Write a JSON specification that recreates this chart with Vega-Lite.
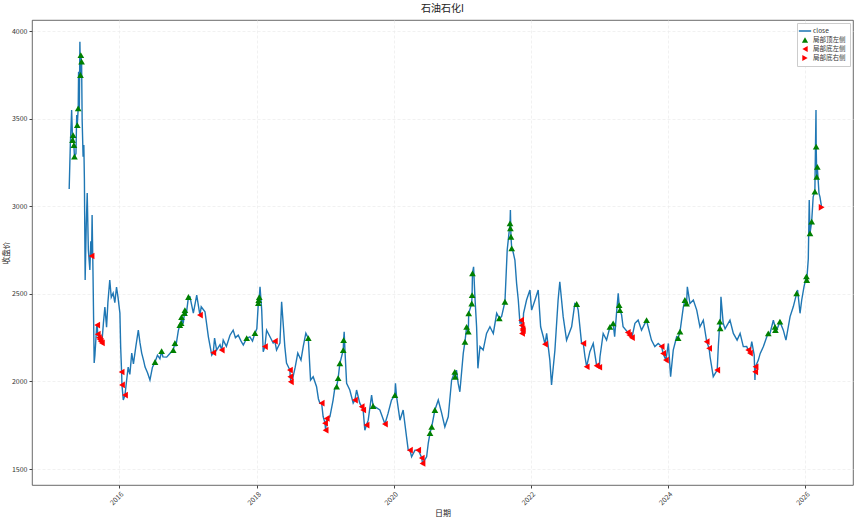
{
  "$schema": "https://vega.github.io/schema/vega-lite/v6.json",
  "width": 821,
  "height": 465,
  "autosize": {"type": "none"},
  "padding": {"left": 32, "top": 20, "right": 12, "bottom": 33},
  "background": "white",
  "title": {"text": "石油石化I", "fontSize": 10, "font": "Noto Sans CJK SC", "fontWeight": "normal", "offset": 6, "color": "#222"},
  "config": {
    "font": "Noto Sans CJK SC",
    "view": {"stroke": "#444", "strokeWidth": 0.8},
    "axis": {"labelFontSize": 7, "labelColor": "#333", "titleFontSize": 8, "titleFontWeight": "normal", "titleColor": "#222", "tickColor": "#444", "tickSize": 3, "labelPadding": 2, "domain": false, "gridColor": "#ebebeb", "gridDash": [3, 2], "gridWidth": 0.7}
  },
  "datasets": {
    "close": [
      {"d":"2015-04-09","v":3098},{"d":"2015-04-15","v":3350},{"d":"2015-04-22","v":3549},{"d":"2015-04-27","v":3378},{"d":"2015-04-30","v":3406},{"d":"2015-05-04","v":3349},{"d":"2015-05-07","v":3283},{"d":"2015-05-15","v":3300},{"d":"2015-05-19","v":3520},{"d":"2015-05-22","v":3463},{"d":"2015-05-27","v":3559},{"d":"2015-05-29","v":3768},{"d":"2015-06-02","v":3560},{"d":"2015-06-05","v":3939},{"d":"2015-06-08","v":3749},{"d":"2015-06-10","v":3863},{"d":"2015-06-14","v":3825},{"d":"2015-06-17","v":3492},{"d":"2015-06-22","v":3283},{"d":"2015-06-26","v":3350},{"d":"2015-06-29","v":3150},{"d":"2015-07-03","v":2579},{"d":"2015-07-09","v":2900},{"d":"2015-07-14","v":3075},{"d":"2015-07-20","v":2750},{"d":"2015-07-28","v":2636},{"d":"2015-08-02","v":2800},{"d":"2015-08-06","v":2716},{"d":"2015-08-09","v":2950},{"d":"2015-08-14","v":2600},{"d":"2015-08-20","v":2105},{"d":"2015-08-24","v":2150},{"d":"2015-09-02","v":2310},{"d":"2015-09-05","v":2322},{"d":"2015-09-08","v":2270},{"d":"2015-09-14","v":2250},{"d":"2015-09-19","v":2240},{"d":"2015-09-24","v":2230},{"d":"2015-09-30","v":2220},{"d":"2015-10-08","v":2330},{"d":"2015-10-16","v":2425},{"d":"2015-10-25","v":2310},{"d":"2015-11-01","v":2450},{"d":"2015-11-11","v":2579},{"d":"2015-11-19","v":2480},{"d":"2015-11-29","v":2504},{"d":"2015-12-08","v":2450},{"d":"2015-12-17","v":2539},{"d":"2015-12-25","v":2480},
      {"d":"2016-01-04","v":2390},{"d":"2016-01-08","v":2200},{"d":"2016-01-13","v":2054},{"d":"2016-01-15","v":1980},{"d":"2016-01-22","v":1894},{"d":"2016-01-31","v":1922},{"d":"2016-02-08","v":2000},{"d":"2016-02-17","v":2082},{"d":"2016-02-26","v":2040},{"d":"2016-03-07","v":2162},{"d":"2016-03-16","v":2100},{"d":"2016-03-29","v":2200},{"d":"2016-04-11","v":2293},{"d":"2016-04-20","v":2220},{"d":"2016-04-29","v":2162},{"d":"2016-05-09","v":2120},{"d":"2016-05-17","v":2082},{"d":"2016-05-30","v":2050},{"d":"2016-06-12","v":2008},{"d":"2016-06-25","v":2080},{"d":"2016-07-09","v":2111},{"d":"2016-07-22","v":2150},{"d":"2016-08-04","v":2130},{"d":"2016-08-13","v":2173},{"d":"2016-08-20","v":2140},{"d":"2016-09-09","v":2139},{"d":"2016-09-26","v":2160},{"d":"2016-10-14","v":2179},{"d":"2016-10-23","v":2219},{"d":"2016-10-28","v":2200},{"d":"2016-11-10","v":2290},{"d":"2016-11-18","v":2322},{"d":"2016-11-25","v":2333},{"d":"2016-11-27","v":2367},{"d":"2016-12-06","v":2330},{"d":"2016-12-13","v":2390},{"d":"2016-12-15","v":2407},{"d":"2016-12-22","v":2380},
      {"d":"2017-01-03","v":2482},{"d":"2017-01-11","v":2483},{"d":"2017-01-29","v":2390},{"d":"2017-02-16","v":2493},{"d":"2017-03-05","v":2379},{"d":"2017-03-12","v":2426},{"d":"2017-04-01","v":2398},{"d":"2017-04-19","v":2255},{"d":"2017-05-07","v":2150},{"d":"2017-05-15","v":2164},{"d":"2017-05-22","v":2247},{"d":"2017-06-02","v":2179},{"d":"2017-06-20","v":2210},{"d":"2017-06-29","v":2179},{"d":"2017-07-07","v":2236},{"d":"2017-07-24","v":2200},{"d":"2017-08-12","v":2264},{"d":"2017-08-29","v":2293},{"d":"2017-09-10","v":2250},{"d":"2017-09-25","v":2264},{"d":"2017-10-10","v":2230},{"d":"2017-10-22","v":2208},{"d":"2017-11-09","v":2247},{"d":"2017-11-26","v":2255},{"d":"2017-12-10","v":2230},{"d":"2017-12-23","v":2276},
      {"d":"2018-01-02","v":2300},{"d":"2018-01-10","v":2447},{"d":"2018-01-12","v":2465},{"d":"2018-01-15","v":2481},{"d":"2018-01-19","v":2540},{"d":"2018-01-28","v":2407},{"d":"2018-02-05","v":2170},{"d":"2018-02-14","v":2199},{"d":"2018-02-23","v":2293},{"d":"2018-03-13","v":2255},{"d":"2018-03-30","v":2219},{"d":"2018-04-08","v":2230},{"d":"2018-04-17","v":2179},{"d":"2018-05-05","v":2219},{"d":"2018-05-14","v":2455},{"d":"2018-05-31","v":2199},{"d":"2018-06-09","v":2105},{"d":"2018-06-27","v":2065},{"d":"2018-06-29","v":2027},{"d":"2018-07-02","v":1998},{"d":"2018-07-10","v":2008},{"d":"2018-07-25","v":2080},{"d":"2018-08-08","v":2162},{"d":"2018-08-25","v":2122},{"d":"2018-09-06","v":2199},{"d":"2018-09-20","v":2276},{"d":"2018-10-03","v":2247},{"d":"2018-10-15","v":2008},{"d":"2018-10-29","v":2027},{"d":"2018-11-16","v":1970},{"d":"2018-11-26","v":1900},{"d":"2018-12-04","v":1876},{"d":"2018-12-13","v":1876},{"d":"2018-12-21","v":1800},{"d":"2018-12-31","v":1762},
      {"d":"2019-01-03","v":1722},{"d":"2019-01-09","v":1789},{"d":"2019-01-26","v":1798},{"d":"2019-02-12","v":1894},{"d":"2019-02-21","v":1960},{"d":"2019-03-03","v":1970},{"d":"2019-03-11","v":2019},{"d":"2019-03-20","v":2103},{"d":"2019-04-07","v":2179},{"d":"2019-04-09","v":2236},{"d":"2019-04-12","v":2284},{"d":"2019-04-16","v":2179},{"d":"2019-04-25","v":1989},{"d":"2019-05-12","v":1951},{"d":"2019-05-30","v":1876},{"d":"2019-06-08","v":1894},{"d":"2019-06-17","v":1951},{"d":"2019-07-04","v":1876},{"d":"2019-07-14","v":1856},{"d":"2019-07-22","v":1837},{"d":"2019-07-31","v":1722},{"d":"2019-08-09","v":1751},{"d":"2019-08-18","v":1779},{"d":"2019-09-05","v":1922},{"d":"2019-09-13","v":1860},{"d":"2019-09-22","v":1856},{"d":"2019-10-19","v":1837},{"d":"2019-11-15","v":1757},{"d":"2019-12-02","v":1819},{"d":"2019-12-20","v":1894},
      {"d":"2020-01-07","v":1922},{"d":"2020-01-10","v":1989},{"d":"2020-01-16","v":1913},{"d":"2020-02-03","v":1779},{"d":"2020-02-20","v":1837},{"d":"2020-03-09","v":1684},{"d":"2020-03-18","v":1608},{"d":"2020-03-27","v":1608},{"d":"2020-04-05","v":1570},{"d":"2020-04-23","v":1608},{"d":"2020-05-10","v":1608},{"d":"2020-05-19","v":1589},{"d":"2020-05-29","v":1563},{"d":"2020-06-02","v":1532},{"d":"2020-06-24","v":1570},{"d":"2020-07-03","v":1650},{"d":"2020-07-12","v":1705},{"d":"2020-07-21","v":1741},{"d":"2020-08-07","v":1837},{"d":"2020-08-25","v":1894},{"d":"2020-09-12","v":1819},{"d":"2020-09-29","v":1741},{"d":"2020-10-17","v":1798},{"d":"2020-11-04","v":2008},{"d":"2020-11-21","v":2055},{"d":"2020-11-23","v":2027},{"d":"2020-11-30","v":2065},{"d":"2020-12-09","v":1989},{"d":"2020-12-18","v":1941},
      {"d":"2021-01-05","v":2160},{"d":"2021-01-14","v":2226},{"d":"2021-01-23","v":2312},{"d":"2021-02-01","v":2284},{"d":"2021-02-03","v":2389},{"d":"2021-02-19","v":2445},{"d":"2021-02-21","v":2493},{"d":"2021-02-23","v":2617},{"d":"2021-03-01","v":2654},{"d":"2021-03-08","v":2483},{"d":"2021-03-17","v":2312},{"d":"2021-03-24","v":2075},{"d":"2021-04-04","v":2199},{"d":"2021-04-21","v":2179},{"d":"2021-05-09","v":2274},{"d":"2021-05-27","v":2312},{"d":"2021-06-14","v":2274},{"d":"2021-07-02","v":2389},{"d":"2021-07-16","v":2360},{"d":"2021-07-28","v":2370},{"d":"2021-08-15","v":2455},{"d":"2021-08-27","v":2750},{"d":"2021-09-11","v":2902},{"d":"2021-09-13","v":2978},{"d":"2021-09-16","v":2826},{"d":"2021-09-20","v":2760},{"d":"2021-09-25","v":2750},{"d":"2021-10-07","v":2693},{"d":"2021-10-16","v":2560},{"d":"2021-10-25","v":2465},{"d":"2021-11-03","v":2330},{"d":"2021-11-09","v":2350},{"d":"2021-11-12","v":2320},{"d":"2021-11-14","v":2274},{"d":"2021-11-16","v":2300},{"d":"2021-11-18","v":2290},{"d":"2021-11-22","v":2389},{"d":"2021-12-08","v":2465},{"d":"2021-12-26","v":2522},
      {"d":"2022-01-04","v":2407},{"d":"2022-01-22","v":2465},{"d":"2022-02-08","v":2522},{"d":"2022-02-21","v":2312},{"d":"2022-03-07","v":2255},{"d":"2022-03-16","v":2213},{"d":"2022-03-25","v":2274},{"d":"2022-04-11","v":2122},{"d":"2022-04-20","v":1980},{"d":"2022-05-08","v":2179},{"d":"2022-05-25","v":2465},{"d":"2022-06-03","v":2569},{"d":"2022-06-21","v":2370},{"d":"2022-07-09","v":2236},{"d":"2022-08-05","v":2312},{"d":"2022-08-22","v":2445},{"d":"2022-09-01","v":2442},{"d":"2022-09-09","v":2407},{"d":"2022-09-27","v":2217},{"d":"2022-10-06","v":2217},{"d":"2022-10-15","v":2141},{"d":"2022-10-24","v":2084},{"d":"2022-11-10","v":2170},{"d":"2022-11-28","v":2217},{"d":"2022-12-16","v":2090},{"d":"2022-12-30","v":2081},
      {"d":"2023-01-03","v":2141},{"d":"2023-01-20","v":2274},{"d":"2023-02-07","v":2236},{"d":"2023-02-25","v":2312},{"d":"2023-03-14","v":2332},{"d":"2023-03-22","v":2255},{"d":"2023-04-01","v":2389},{"d":"2023-04-10","v":2503},{"d":"2023-04-15","v":2436},{"d":"2023-04-19","v":2407},{"d":"2023-04-28","v":2380},{"d":"2023-05-06","v":2312},{"d":"2023-05-31","v":2280},{"d":"2023-06-08","v":2265},{"d":"2023-06-22","v":2250},{"d":"2023-07-08","v":2332},{"d":"2023-07-25","v":2350},{"d":"2023-08-12","v":2293},{"d":"2023-09-08","v":2350},{"d":"2023-09-16","v":2312},{"d":"2023-10-04","v":2236},{"d":"2023-10-22","v":2199},{"d":"2023-11-09","v":2217},{"d":"2023-11-27","v":2199},{"d":"2023-12-05","v":2160},{"d":"2023-12-20","v":2122},
      {"d":"2024-01-02","v":2217},{"d":"2024-01-14","v":2027},{"d":"2024-01-28","v":2179},{"d":"2024-02-15","v":2255},{"d":"2024-02-23","v":2247},{"d":"2024-03-04","v":2284},{"d":"2024-03-21","v":2420},{"d":"2024-03-30","v":2465},{"d":"2024-04-08","v":2445},{"d":"2024-04-12","v":2540},{"d":"2024-04-26","v":2445},{"d":"2024-05-14","v":2465},{"d":"2024-06-01","v":2407},{"d":"2024-06-18","v":2312},{"d":"2024-07-06","v":2350},{"d":"2024-07-24","v":2227},{"d":"2024-08-06","v":2189},{"d":"2024-08-11","v":2141},{"d":"2024-08-28","v":2027},{"d":"2024-09-18","v":2065},{"d":"2024-09-24","v":2200},{"d":"2024-10-02","v":2341},{"d":"2024-10-04","v":2303},{"d":"2024-10-08","v":2483},{"d":"2024-10-20","v":2332},{"d":"2024-10-30","v":2300},{"d":"2024-11-25","v":2350},{"d":"2024-12-13","v":2274},
      {"d":"2025-01-02","v":2236},{"d":"2025-01-18","v":2274},{"d":"2025-02-04","v":2199},{"d":"2025-02-22","v":2200},{"d":"2025-03-02","v":2179},{"d":"2025-03-11","v":2162},{"d":"2025-03-21","v":2227},{"d":"2025-04-03","v":2150},{"d":"2025-04-07","v":2008},{"d":"2025-04-08","v":2055},{"d":"2025-04-10","v":2084},{"d":"2025-04-25","v":2122},{"d":"2025-05-05","v":2160},{"d":"2025-05-22","v":2199},{"d":"2025-06-09","v":2255},{"d":"2025-06-17","v":2274},{"d":"2025-06-26","v":2274},{"d":"2025-07-14","v":2350},{"d":"2025-07-23","v":2312},{"d":"2025-07-25","v":2293},{"d":"2025-08-01","v":2293},{"d":"2025-08-18","v":2341},{"d":"2025-09-05","v":2293},{"d":"2025-09-19","v":2236},{"d":"2025-10-11","v":2370},{"d":"2025-10-28","v":2426},{"d":"2025-11-15","v":2503},{"d":"2025-11-20","v":2522},{"d":"2025-12-03","v":2389},{"d":"2025-12-12","v":2465},{"d":"2025-12-24","v":2540},
      {"d":"2026-01-06","v":2600},{"d":"2026-01-08","v":2579},{"d":"2026-01-16","v":2700},{"d":"2026-01-21","v":3035},{"d":"2026-01-25","v":2845},{"d":"2026-02-03","v":2912},{"d":"2026-02-11","v":3054},{"d":"2026-02-20","v":3083},{"d":"2026-02-26","v":3549},{"d":"2026-02-27","v":3340},{"d":"2026-03-02","v":3168},{"d":"2026-03-05","v":3225},{"d":"2026-03-14","v":3073},{"d":"2026-03-19","v":3054},{"d":"2026-03-28","v":2994},{"d":"2026-04-01","v":2990}
    ],
    "pts": [
      {"d":"2015-06-10","v":3863,"s":"局部顶左侧"},{"d":"2015-06-14","v":3825,"s":"局部顶左侧"},{"d":"2015-06-08","v":3749,"s":"局部顶左侧"},{"d":"2015-05-27","v":3559,"s":"局部顶左侧"},{"d":"2015-05-22","v":3463,"s":"局部顶左侧"},{"d":"2015-04-30","v":3406,"s":"局部顶左侧"},{"d":"2015-04-27","v":3378,"s":"局部顶左侧"},{"d":"2015-05-04","v":3349,"s":"局部顶左侧"},{"d":"2015-05-07","v":3283,"s":"局部顶左侧"},
      {"d":"2016-07-09","v":2111,"s":"局部顶左侧"},{"d":"2016-08-13","v":2173,"s":"局部顶左侧"},{"d":"2016-10-14","v":2179,"s":"局部顶左侧"},{"d":"2016-10-23","v":2219,"s":"局部顶左侧"},{"d":"2016-11-18","v":2322,"s":"局部顶左侧"},{"d":"2016-11-25","v":2333,"s":"局部顶左侧"},{"d":"2016-11-27","v":2367,"s":"局部顶左侧"},{"d":"2016-12-13","v":2390,"s":"局部顶左侧"},{"d":"2016-12-15","v":2407,"s":"局部顶左侧"},{"d":"2017-01-03","v":2482,"s":"局部顶左侧"},
      {"d":"2017-11-09","v":2247,"s":"局部顶左侧"},{"d":"2017-12-23","v":2276,"s":"局部顶左侧"},{"d":"2018-01-10","v":2447,"s":"局部顶左侧"},{"d":"2018-01-12","v":2465,"s":"局部顶左侧"},{"d":"2018-01-15","v":2481,"s":"局部顶左侧"},{"d":"2018-10-03","v":2247,"s":"局部顶左侧"},
      {"d":"2019-03-03","v":1970,"s":"局部顶左侧"},{"d":"2019-03-11","v":2019,"s":"局部顶左侧"},{"d":"2019-03-20","v":2103,"s":"局部顶左侧"},{"d":"2019-04-07","v":2179,"s":"局部顶左侧"},{"d":"2019-04-09","v":2236,"s":"局部顶左侧"},{"d":"2019-09-13","v":1860,"s":"局部顶左侧"},{"d":"2020-01-07","v":1922,"s":"局部顶左侧"},
      {"d":"2020-07-12","v":1705,"s":"局部顶左侧"},{"d":"2020-07-21","v":1741,"s":"局部顶左侧"},{"d":"2020-08-07","v":1837,"s":"局部顶左侧"},{"d":"2020-11-21","v":2055,"s":"局部顶左侧"},{"d":"2020-11-23","v":2027,"s":"局部顶左侧"},
      {"d":"2021-01-14","v":2226,"s":"局部顶左侧"},{"d":"2021-01-23","v":2312,"s":"局部顶左侧"},{"d":"2021-02-01","v":2284,"s":"局部顶左侧"},{"d":"2021-02-03","v":2389,"s":"局部顶左侧"},{"d":"2021-02-19","v":2445,"s":"局部顶左侧"},{"d":"2021-02-21","v":2493,"s":"局部顶左侧"},{"d":"2021-02-23","v":2617,"s":"局部顶左侧"},{"d":"2021-07-16","v":2360,"s":"局部顶左侧"},{"d":"2021-08-15","v":2455,"s":"局部顶左侧"},{"d":"2021-09-11","v":2902,"s":"局部顶左侧"},{"d":"2021-09-13","v":2874,"s":"局部顶左侧"},{"d":"2021-09-16","v":2826,"s":"局部顶左侧"},{"d":"2021-09-20","v":2760,"s":"局部顶左侧"},
      {"d":"2022-09-01","v":2442,"s":"局部顶左侧"},{"d":"2023-02-25","v":2312,"s":"局部顶左侧"},{"d":"2023-03-14","v":2332,"s":"局部顶左侧"},{"d":"2023-04-15","v":2436,"s":"局部顶左侧"},{"d":"2023-04-19","v":2407,"s":"局部顶左侧"},{"d":"2023-09-08","v":2350,"s":"局部顶左侧"},
      {"d":"2024-02-23","v":2247,"s":"局部顶左侧"},{"d":"2024-03-04","v":2284,"s":"局部顶左侧"},{"d":"2024-03-30","v":2465,"s":"局部顶左侧"},{"d":"2024-04-08","v":2445,"s":"局部顶左侧"},{"d":"2024-10-02","v":2341,"s":"局部顶左侧"},{"d":"2024-10-04","v":2303,"s":"局部顶左侧"},
      {"d":"2025-06-17","v":2274,"s":"局部顶左侧"},{"d":"2025-07-23","v":2312,"s":"局部顶左侧"},{"d":"2025-07-25","v":2293,"s":"局部顶左侧"},{"d":"2025-08-18","v":2341,"s":"局部顶左侧"},{"d":"2025-11-15","v":2503,"s":"局部顶左侧"},{"d":"2026-01-06","v":2600,"s":"局部顶左侧"},{"d":"2026-01-08","v":2579,"s":"局部顶左侧"},{"d":"2026-01-25","v":2845,"s":"局部顶左侧"},{"d":"2026-02-03","v":2912,"s":"局部顶左侧"},{"d":"2026-02-20","v":3083,"s":"局部顶左侧"},{"d":"2026-03-02","v":3168,"s":"局部顶左侧"},{"d":"2026-03-05","v":3225,"s":"局部顶左侧"},{"d":"2026-02-27","v":3340,"s":"局部顶左侧"},
      {"d":"2015-08-06","v":2716,"s":"局部底左侧"},{"d":"2015-09-05","v":2322,"s":"局部底左侧"},{"d":"2015-09-08","v":2270,"s":"局部底左侧"},{"d":"2015-09-14","v":2250,"s":"局部底左侧"},{"d":"2015-09-19","v":2240,"s":"局部底左侧"},{"d":"2015-09-24","v":2230,"s":"局部底左侧"},{"d":"2015-09-30","v":2220,"s":"局部底左侧"},
      {"d":"2016-01-13","v":2054,"s":"局部底左侧"},{"d":"2016-01-15","v":1980,"s":"局部底左侧"},{"d":"2016-01-31","v":1922,"s":"局部底左侧"},{"d":"2017-03-05","v":2379,"s":"局部底左侧"},{"d":"2017-05-15","v":2164,"s":"局部底左侧"},{"d":"2017-06-29","v":2179,"s":"局部底左侧"},
      {"d":"2018-02-14","v":2199,"s":"局部底左侧"},{"d":"2018-04-08","v":2230,"s":"局部底左侧"},{"d":"2018-06-27","v":2065,"s":"局部底左侧"},{"d":"2018-06-29","v":2027,"s":"局部底左侧"},{"d":"2018-07-02","v":1998,"s":"局部底左侧"},{"d":"2018-12-13","v":1876,"s":"局部底左侧"},{"d":"2018-12-31","v":1762,"s":"局部底左侧"},{"d":"2019-01-03","v":1722,"s":"局部底左侧"},{"d":"2019-01-09","v":1789,"s":"局部底左侧"},
      {"d":"2019-06-08","v":1894,"s":"局部底左侧"},{"d":"2019-07-14","v":1856,"s":"局部底左侧"},{"d":"2019-07-22","v":1837,"s":"局部底左侧"},{"d":"2019-08-09","v":1751,"s":"局部底左侧"},{"d":"2019-11-15","v":1757,"s":"局部底左侧"},
      {"d":"2020-03-27","v":1608,"s":"局部底左侧"},{"d":"2020-05-10","v":1608,"s":"局部底左侧"},{"d":"2020-05-29","v":1563,"s":"局部底左侧"},{"d":"2020-06-02","v":1532,"s":"局部底左侧"},
      {"d":"2021-11-09","v":2350,"s":"局部底左侧"},{"d":"2021-11-12","v":2320,"s":"局部底左侧"},{"d":"2021-11-14","v":2274,"s":"局部底左侧"},{"d":"2021-11-16","v":2300,"s":"局部底左侧"},{"d":"2021-11-18","v":2290,"s":"局部底左侧"},
      {"d":"2022-03-16","v":2213,"s":"局部底左侧"},{"d":"2022-10-06","v":2217,"s":"局部底左侧"},{"d":"2022-10-24","v":2084,"s":"局部底左侧"},{"d":"2022-12-16","v":2090,"s":"局部底左侧"},{"d":"2022-12-30","v":2081,"s":"局部底左侧"},
      {"d":"2023-05-31","v":2280,"s":"局部底左侧"},{"d":"2023-06-08","v":2265,"s":"局部底左侧"},{"d":"2023-06-22","v":2250,"s":"局部底左侧"},{"d":"2023-11-27","v":2199,"s":"局部底左侧"},{"d":"2023-12-05","v":2160,"s":"局部底左侧"},{"d":"2023-12-20","v":2122,"s":"局部底左侧"},
      {"d":"2024-07-24","v":2227,"s":"局部底左侧"},{"d":"2024-08-06","v":2189,"s":"局部底左侧"},{"d":"2024-09-18","v":2065,"s":"局部底左侧"},
      {"d":"2025-03-02","v":2179,"s":"局部底左侧"},{"d":"2025-03-11","v":2162,"s":"局部底左侧"},{"d":"2025-04-08","v":2055,"s":"局部底左侧"},{"d":"2025-04-10","v":2084,"s":"局部底左侧"},
      {"d":"2026-03-28","v":2994,"s":"局部底右侧"}
    ]
  },
  "layer": [
    {
      "data": {"name": "close"},
      "mark": {"type": "line", "color": "#1f77b4", "strokeWidth": 1.4},
      "encoding": {
        "x": {"field": "d", "type": "temporal", "title": "日期",
          "scale": {"domain": ["2014-09-23", "2026-09-11"]},
          "axis": {"values": [{"year": 2016}, {"year": 2018}, {"year": 2020}, {"year": 2022}, {"year": 2024}, {"year": 2026}], "format": "%Y", "labelAngle": -45, "labelAlign": "right", "labelBaseline": "top", "titlePadding": 4}},
        "y": {"field": "v", "type": "quantitative", "title": "收盘价",
          "scale": {"domain": [1409, 4063], "nice": false, "zero": false},
          "axis": {"values": [1500, 2000, 2500, 3000, 3500, 4000], "format": "d", "titlePadding": 1, "titleFontSize": 7.5}}
      }
    },
    {
      "data": {"name": "pts"},
      "mark": {"type": "point", "filled": true, "size": 45, "opacity": 1},
      "encoding": {
        "x": {"field": "d", "type": "temporal"},
        "y": {"field": "v", "type": "quantitative"},
        "color": {"field": "s", "type": "nominal",
          "scale": {"domain": ["close", "局部顶左侧", "局部底左侧", "局部底右侧"], "range": ["#1f77b4", "#008000", "#ff0000", "#ff0000"]},
          "legend": {"title": null, "orient": "top-right", "offset": 3, "fillColor": "white", "strokeColor": "#cccccc", "padding": 4, "labelFontSize": 6.5, "labelColor": "#333", "symbolSize": 38, "rowPadding": 1, "labelOffset": 4}},
        "shape": {"field": "s", "type": "nominal",
          "scale": {"domain": ["close", "局部顶左侧", "局部底左侧", "局部底右侧"], "range": ["M-2,-0.25H2V0.25H-2Z", "triangle-up", "triangle-left", "triangle-right"]},
          "legend": {"title": null}}
      }
    }
  ]
}
